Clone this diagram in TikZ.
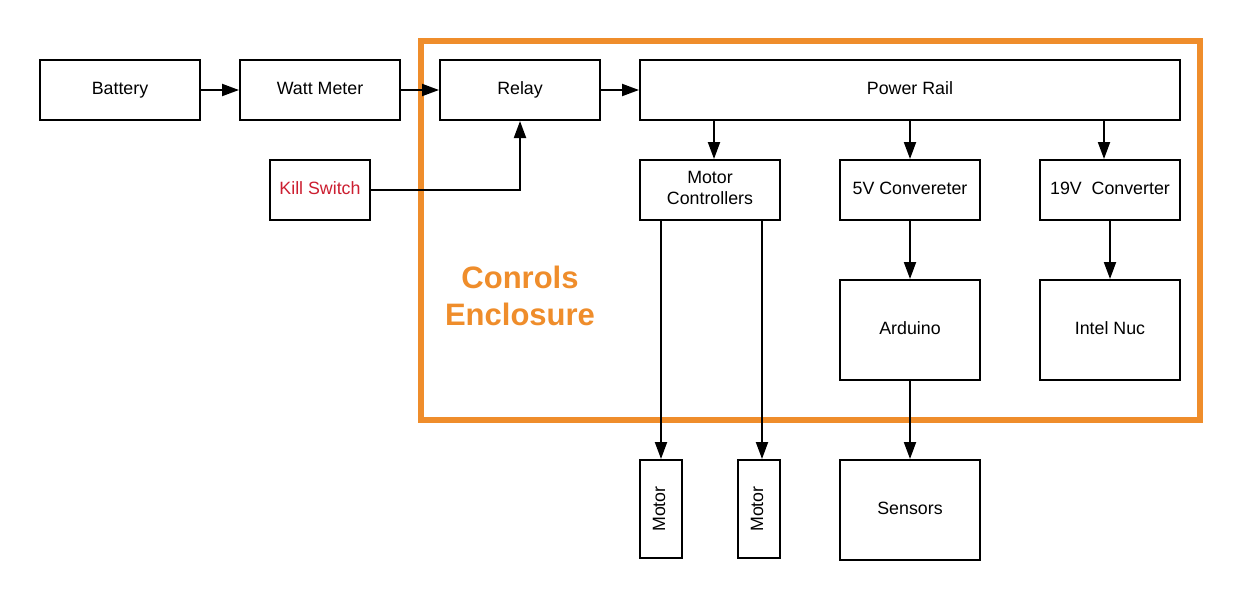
\documentclass[tikz,border=0pt]{standalone}
\usepackage{fontspec}
\setmainfont{Liberation Sans}
\usetikzlibrary{arrows.meta}
\definecolor{encl}{RGB}{239,141,43}
\definecolor{ksred}{RGB}{204,30,48}
\begin{document}
\begin{tikzpicture}[x=1pt,y=-1pt,
  box/.style={draw=black,line width=2pt,inner sep=0pt,align=center,font=\fontsize{17.8}{21}\selectfont},
  one/.style={text height=12.7pt,text depth=4.2pt},
  lbl/.style={inner sep=0pt,font=\fontsize{17.8}{21}\selectfont},
  arr/.style={line width=2pt,-{Triangle[length=17pt,width=12pt]}}]
\useasboundingbox (0,0) rectangle (1240,600);
\fill[white] (0,0) rectangle (1240,600);
\draw[encl,line width=6pt] (421,41) rectangle (1200,420);
\node[box,one,minimum width=160pt,minimum height=60pt] (bat) at (120,90) {Battery};
\node[box,one,minimum width=160pt,minimum height=60pt] (watt) at (320,90) {Watt Meter};
\node[box,one,minimum width=160pt,minimum height=60pt] (relay) at (520,90) {Relay};
\node[box,one,minimum width=540pt,minimum height=60pt] (pr) at (910,90) {Power Rail};
\node[box,one,minimum width=100pt,minimum height=60pt,text=ksred] (ks) at (320,190) {Kill Switch};
\node[box,minimum width=140pt,minimum height=60pt] (mc) at (710,190) {};
\node[lbl,align=center] (mct) at (710,188) {Motor\\Controllers};
\node[box,one,minimum width=140pt,minimum height=60pt] (c5) at (910,190) {5V Convereter};
\node[box,one,minimum width=140pt,minimum height=60pt] (c19) at (1110,190) {19V\ \ Converter};
\node[box,one,minimum width=140pt,minimum height=100pt] (ard) at (910,330) {Arduino};
\node[box,one,minimum width=140pt,minimum height=100pt] (nuc) at (1110,330) {Intel Nuc};
\node[box,minimum width=42pt,minimum height=98pt] (m1) at (661,509) {};
\node[lbl,rotate=90] (m1t) at ([xshift=-2pt]m1.center) {Motor};
\node[box,minimum width=42pt,minimum height=98pt] (m2) at (759,509) {};
\node[lbl,rotate=90] (m2t) at ([xshift=-2pt]m2.center) {Motor};
\node[box,one,minimum width=140pt,minimum height=100pt] (sen) at (910,510) {Sensors};
\node[encl,font=\bfseries\fontsize{31}{37}\selectfont,align=center] (title) at (520,296) {Conrols\\Enclosure};
\draw[arr] (bat) -- (watt);
\draw[arr] (watt) -- (relay);
\draw[arr] (relay) -- (pr);
\draw[arr] (ks.east) -| (relay.south);
\draw[arr] ([xshift=4pt]mc.north |- pr.south) -- ([xshift=4pt]mc.north);
\draw[arr] (c5.north |- pr.south) -- (c5.north);
\draw[arr] ([xshift=-6pt]c19.north |- pr.south) -- ([xshift=-6pt]c19.north);
\draw[arr] (c5) -- (ard);
\draw[arr] (c19) -- (nuc);
\draw[arr] (ard) -- (sen);
\draw[arr] (mc.south -| m1.north) -- (m1.north);
\draw[arr] ([xshift=3pt]m2.north |- mc.south) -- ([xshift=3pt]m2.north);
\end{tikzpicture}
\end{document}
